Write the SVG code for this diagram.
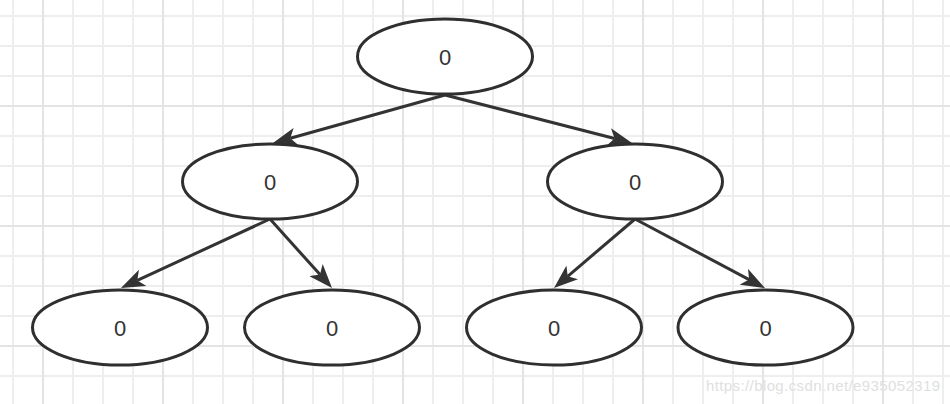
<svg xmlns="http://www.w3.org/2000/svg" width="950" height="404" viewBox="0 0 950 404">
<defs>
<style>
.minor{stroke:#eeeeee;stroke-width:2}
.major{stroke:#e4e4e4;stroke-width:2}
.node{fill:#ffffff;stroke:#2f2f2f;stroke-width:3}
.label{font-family:"Liberation Sans",Arial,sans-serif;font-size:22px;fill:#333333;text-anchor:middle}
.edge{stroke:#333333;stroke-width:3;fill:none}
.wm{font-family:"Liberation Sans",Arial,sans-serif;font-size:15px;fill:#e0e0e0}
</style>
<marker id="arrow" viewBox="0 0 24 18" refX="6" refY="9" markerWidth="24" markerHeight="18" markerUnits="userSpaceOnUse" orient="auto">
<path d="M0,0 L24,9 L0,18 L6,9 Z" fill="#333333"/>
</marker>
<pattern id="minorGrid" width="30" height="30" patternUnits="userSpaceOnUse" x="12" y="15">
<path d="M0,1 H30 M1,0 V30" class="minor"/>
</pattern>
<pattern id="majorGrid" width="120" height="120" patternUnits="userSpaceOnUse" x="42" y="105">
<path d="M0,1 H120 M1,0 V120" class="major"/>
</pattern>
</defs>
<rect width="950" height="404" fill="#ffffff"/>
<rect width="950" height="404" fill="url(#minorGrid)"/>
<rect width="950" height="404" fill="url(#majorGrid)"/>
<g id="connectors">
<path class="edge" d="M445,95 L290.3,138.2" marker-end="url(#arrow)"/>
<path class="edge" d="M445,95 L614.6,138.5" marker-end="url(#arrow)"/>
<path class="edge" d="M270,219 L137.3,280.4" marker-end="url(#arrow)"/>
<path class="edge" d="M270,219 L320,274.6" marker-end="url(#arrow)"/>
<path class="edge" d="M635,219 L567.7,276.3" marker-end="url(#arrow)"/>
<path class="edge" d="M635,219 L749.1,279.6" marker-end="url(#arrow)"/>
</g>
<g id="n0"><ellipse class="node" cx="445" cy="56.5" rx="87.5" ry="37.5"/><text class="label" x="445" y="64.5">0</text></g>
<g id="n1"><ellipse class="node" cx="270" cy="181.5" rx="87.5" ry="37.5"/><text class="label" x="270" y="189.5">0</text></g>
<g id="n2"><ellipse class="node" cx="635" cy="181.5" rx="87.5" ry="37.5"/><text class="label" x="635" y="189.5">0</text></g>
<g id="n3"><ellipse class="node" cx="120" cy="327.5" rx="87.5" ry="37.5"/><text class="label" x="120" y="335.5">0</text></g>
<g id="n4"><ellipse class="node" cx="332" cy="327.5" rx="87.5" ry="37.5"/><text class="label" x="332" y="335.5">0</text></g>
<g id="n5"><ellipse class="node" cx="554" cy="327.5" rx="87.5" ry="37.5"/><text class="label" x="554" y="335.5">0</text></g>
<g id="n6"><ellipse class="node" cx="765.5" cy="327.5" rx="87.5" ry="37.5"/><text class="label" x="765.5" y="335.5">0</text></g>
<text class="wm" x="706" y="391" textLength="234">https://blog.csdn.net/e935052319</text>
</svg>
